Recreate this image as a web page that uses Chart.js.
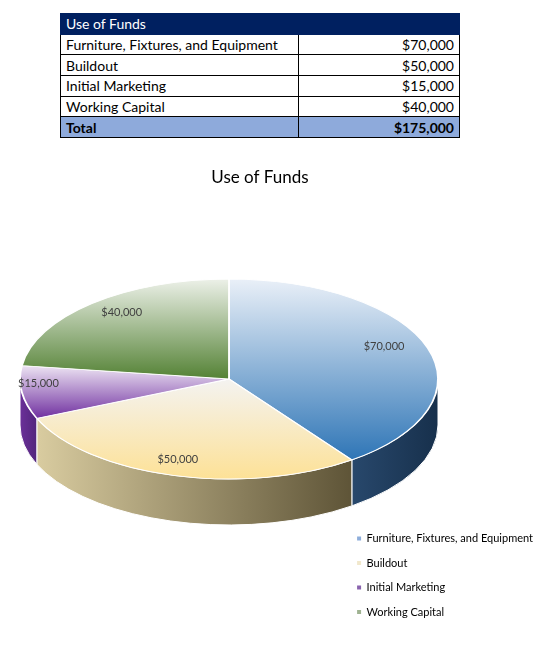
<!DOCTYPE html>
<html>
<head>
<meta charset="utf-8">
<script src="https://cdn.jsdelivr.net/npm/chart.js@4.4.1/dist/chart.umd.min.js"></script>
<style>
  html, body { margin: 0; padding: 0; background: #fff; }
  body { width: 556px; height: 649px; position: relative; overflow: hidden; font-family: Lato, sans-serif; }
  #fundsTable { position: absolute; left: 60px; top: 13px; width: 400px; border-collapse: collapse; font-size: 14px; color: #000; }
  #fundsTable td { border: 1px solid #000; padding: 0 5px; height: 19.7px; line-height: 19px; }
  #fundsTable td.amt { text-align: right; width: 150px; }
  #fundsTable tr.head td { background: #002060; color: #fff; border-color: #002060; }
  #fundsTable tr.total td { background: #8eaadb; font-weight: bold; }
  #chartBox { position: absolute; left: 0; top: 150px; width: 556px; height: 490px; }
</style>
</head>
<body>
<table id="fundsTable"></table>
<div id="chartBox"><canvas id="fundsPie"></canvas></div>
<script>
const CATEGORIES = ['Furniture, Fixtures, and Equipment', 'Buildout', 'Initial Marketing', 'Working Capital'];
const AMOUNTS = [70000, 50000, 15000, 40000];
const TABLE_TITLE = 'Use of Funds';
const TOTAL_LABEL = 'Total';

// look of the slices: [light, dark] for top face, [left, right] for the side wall
const TOP_COLORS = [['#eaf0f8', '#2e75b6'], ['#f4f3f1', '#fde196'], ['#ede4f3', '#7030a0'], ['#edf1e9', '#548235']];
const SIDE_COLORS = [['#28486c', '#17304c'], ['#d9cca0', '#5e5437'], ['#6b3099', '#52257c'], ['#4a7030', '#3a5a26']];
const LEGEND_COLORS = ['#8eaedb', '#f1e8cc', '#8a64ae', '#a0b392'];
const LABEL_RADIUS = [0.78, 0.92, 0.92, 0.78];

// where the tilted pie sits on the canvas
const PIE_CX = 229, PIE_CY = 229, PIE_RX = 209, PIE_RY = 100, PIE_DEPTH = 46, LABEL_LIFT = 8;

const fmt = v => '$' + v.toLocaleString('en-US');
const totalAmount = AMOUNTS.reduce((a, b) => a + b, 0);

function buildTable() {
    const table = document.getElementById('fundsTable');
    let html = `<tr class="head"><td colspan="2">${TABLE_TITLE}</td></tr>`;
    CATEGORIES.forEach((c, i) => {
        html += `<tr><td>${c}</td><td class="amt">${fmt(AMOUNTS[i])}</td></tr>`;
    });
    html += `<tr class="total"><td>${TOTAL_LABEL}</td><td class="amt">${fmt(totalAmount)}</td></tr>`;
    table.innerHTML = html;
}

// angle range of slice i, same convention as Chart.js (starts at top, clockwise)
function sliceAngles(i) {
    const before = AMOUNTS.slice(0, i).reduce((a, b) => a + b, 0);
    const start = -Math.PI / 2 + 2 * Math.PI * before / totalAmount;
    return [start, start + 2 * Math.PI * AMOUNTS[i] / totalAmount];
}

function topFill(c) {
    const chart = c.chart, area = chart.chartArea;
    if (!area || c.dataIndex === undefined) return TOP_COLORS[0][1];
    const i = c.dataIndex;
    const cy = (area.top + area.bottom) / 2;
    const r = Math.min(area.width, area.height) / 2;
    const [a1, a2] = sliceAngles(i);
    let lo = Math.min(0, Math.sin(a1), Math.sin(a2));
    let hi = Math.max(0, Math.sin(a1), Math.sin(a2));
    for (const k of [-Math.PI / 2, Math.PI / 2, 3 * Math.PI / 2]) {
        if (k > a1 && k < a2) { lo = Math.min(lo, Math.sin(k)); hi = Math.max(hi, Math.sin(k)); }
    }
    const g = chart.ctx.createLinearGradient(0, cy + r * lo, 0, cy + r * hi);
    g.addColorStop(0, TOP_COLORS[i][0]);
    g.addColorStop(1, TOP_COLORS[i][1]);
    return g;
}

const pie3d = {
    id: 'pie3d',
    beforeDatasetsDraw(chart) {
        const ctx = chart.ctx;
        const meta = chart.getDatasetMeta(0);
        const first = meta.data[0];
        if (!first) return;
        // side walls of the front half
        meta.data.forEach((arc, i) => {
            const lo = Math.max(arc.startAngle, 0);
            const hi = Math.min(arc.endAngle, Math.PI);
            if (lo >= hi) return;
            const g = ctx.createLinearGradient(PIE_CX + PIE_RX * Math.cos(hi), 0, PIE_CX + PIE_RX * Math.cos(lo), 0);
            g.addColorStop(0, SIDE_COLORS[i][0]);
            g.addColorStop(1, SIDE_COLORS[i][1]);
            ctx.beginPath();
            ctx.ellipse(PIE_CX, PIE_CY, PIE_RX, PIE_RY, 0, lo, hi);
            ctx.ellipse(PIE_CX, PIE_CY + PIE_DEPTH, PIE_RX, PIE_RY, 0, hi, lo, true);
            ctx.closePath();
            ctx.fillStyle = g;
            ctx.fill();
            ctx.strokeStyle = '#ffffff';
            ctx.lineWidth = 1;
            ctx.stroke();
        });
        // flatten the round pie into the tilted top face
        const r = first.outerRadius;
        ctx.save();
        ctx.translate(PIE_CX, PIE_CY);
        ctx.scale(PIE_RX / r, PIE_RY / r);
        ctx.translate(-first.x, -first.y);
    },
    afterDatasetsDraw(chart) {
        const ctx = chart.ctx;
        const meta = chart.getDatasetMeta(0);
        if (!meta.data[0]) return;
        ctx.restore();
        ctx.save();
        ctx.font = '11px Lato, sans-serif';
        ctx.fillStyle = '#404040';
        ctx.textAlign = 'center';
        ctx.textBaseline = 'middle';
        meta.data.forEach((arc, i) => {
            const mid = (arc.startAngle + arc.endAngle) / 2;
            const f = LABEL_RADIUS[i];
            const x = PIE_CX + f * PIE_RX * Math.cos(mid);
            const y = PIE_CY + f * PIE_RY * Math.sin(mid) - LABEL_LIFT;
            ctx.fillText(fmt(AMOUNTS[i]), x, y);
        });
        ctx.restore();
    }
};

function drawChart() {
    const canvas = document.getElementById('fundsPie');
    new Chart(canvas.getContext('2d'), {
        type: 'pie',
        data: {
            labels: CATEGORIES,
            datasets: [{
                data: AMOUNTS,
                backgroundColor: topFill,
                borderColor: '#ffffff',
                borderWidth: 1.5,
                clip: false
            }]
        },
        options: {
            responsive: true,
            maintainAspectRatio: false,
            animation: false,
            events: [],
            layout: { padding: { left: -23, right: 13, bottom: 9 } },
            plugins: {
                title: {
                    display: true,
                    text: 'Use of Funds',
                    color: '#000000',
                    font: { family: 'Lato, sans-serif', size: 17, weight: 'normal' },
                    padding: { top: 17, bottom: 10 }
                },
                legend: {
                    position: 'right',
                    align: 'end',
                    labels: {
                        boxWidth: 4,
                        boxHeight: 4,
                        padding: 13.5,
                        color: '#404040',
                        font: { family: 'Lato, sans-serif', size: 11 },
                        generateLabels: () => CATEGORIES.map((t, i) => ({
                            text: t,
                            fillStyle: LEGEND_COLORS[i],
                            strokeStyle: LEGEND_COLORS[i],
                            lineWidth: 0,
                            hidden: false,
                            index: i
                        }))
                    }
                },
                tooltip: { enabled: false }
            }
        },
        plugins: [pie3d]
    });
}

window.addEventListener('DOMContentLoaded', () => {
    buildTable();
    drawChart();
});
</script>
</body>
</html>
